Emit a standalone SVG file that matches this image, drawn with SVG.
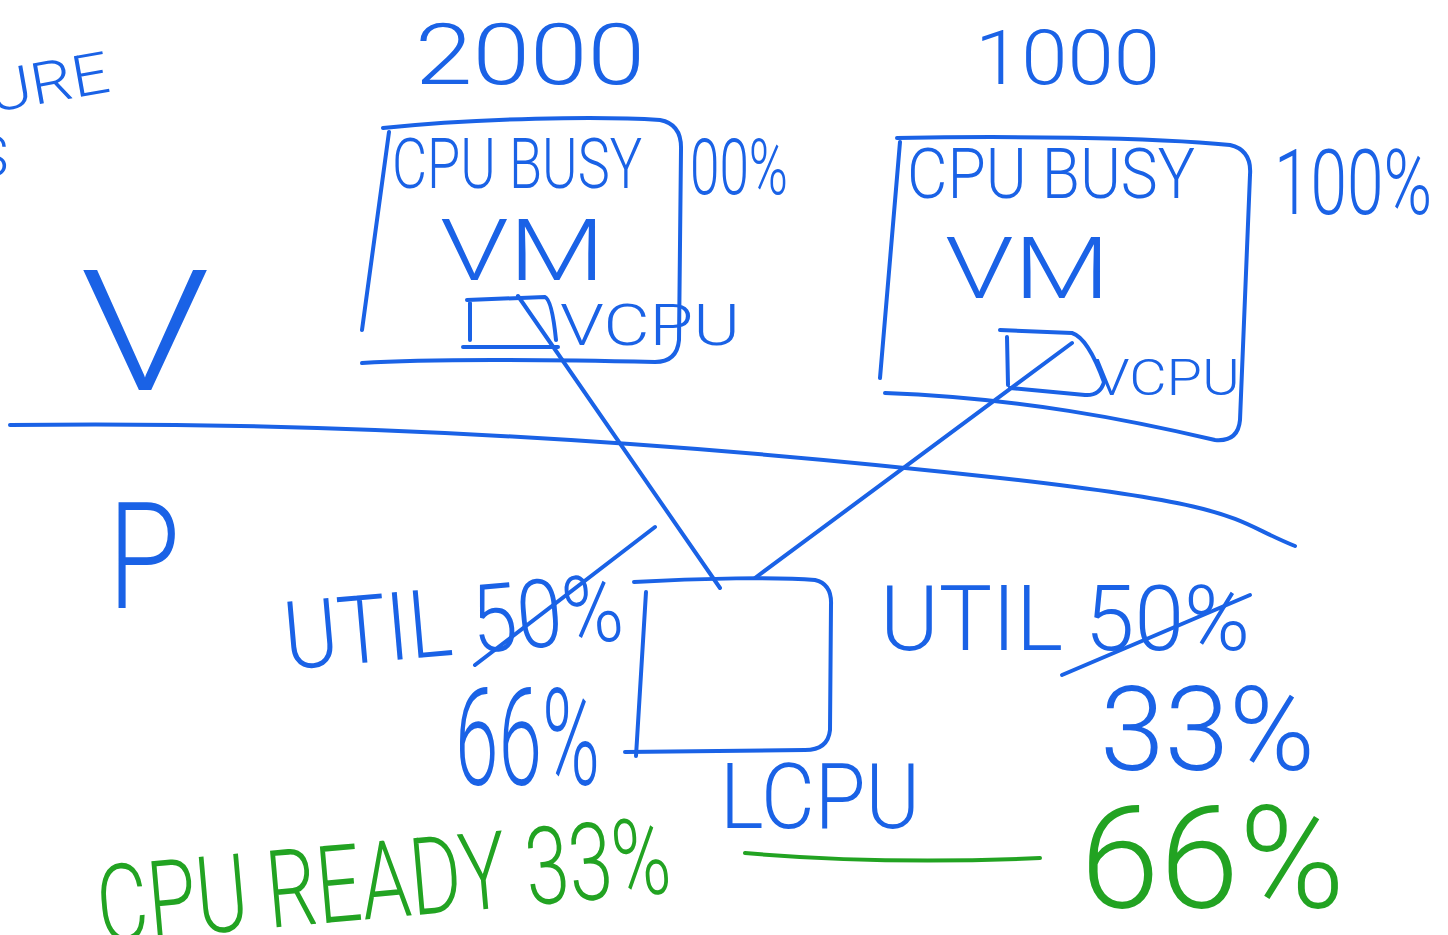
<svg xmlns="http://www.w3.org/2000/svg" width="1448" height="935" viewBox="0 0 1448 935">
<style>
.ln{fill:none;stroke:#1a62e6;stroke-width:4;stroke-linecap:round;stroke-linejoin:round}
.lg{fill:none;stroke:#22a322;stroke-width:4;stroke-linecap:round}
.tb{fill:#1a62e6;font-family:Roboto,"Liberation Sans",sans-serif;font-weight:300}
.tg{fill:#22a322;font-family:Roboto,"Liberation Sans",sans-serif;font-weight:300}
</style>
<rect width="1448" height="935" fill="#ffffff"/>
<g id="title-partial">
<text class="tb" x="-12" y="102" font-size="58" textLength="122" lengthAdjust="spacingAndGlyphs" transform="rotate(-10 50 85)">URE</text>
<text class="tb" x="-26" y="176" font-size="58">S</text>
</g>
<g id="label-2000"><text class="tb" x="415" y="84" font-size="86" textLength="230" lengthAdjust="spacingAndGlyphs">2000</text></g>
<g id="label-1000"><text class="tb" x="975" y="84" font-size="76" textLength="185" lengthAdjust="spacingAndGlyphs">1000</text></g>
<g id="vm1">
<path class="ln" d="M383,128 C480,118 600,116 660,120 Q682,124 681,150 L679,340 Q677,362 655,362 C560,360 440,358 362,363"/>
<path class="ln" d="M389,132 L362,330"/>
<text class="tb" x="392" y="188" font-size="70" textLength="250" lengthAdjust="spacingAndGlyphs">CPU BUSY</text>
<text class="tb" x="440" y="280" font-size="86" textLength="165" lengthAdjust="spacingAndGlyphs">VM</text>
<text class="tb" x="690" y="194" font-size="78" textLength="98" lengthAdjust="spacingAndGlyphs">00%</text>
</g>
<g id="vcpu1">
<path class="ln" d="M470,340 L470,303 M467,300 L545,297 Q552,300 556,340 M463,347 L558,347"/>
<text class="tb" x="560" y="345" font-size="58" textLength="180" lengthAdjust="spacingAndGlyphs">VCPU</text>
</g>
<g id="vm2">
<path class="ln" d="M897,138 C1000,136 1150,137 1230,145 Q1252,150 1250,175 L1240,420 Q1238,442 1215,440 C1130,420 1020,398 885,393"/>
<path class="ln" d="M900,142 L880,378"/>
<text class="tb" x="907" y="198" font-size="70" textLength="288" lengthAdjust="spacingAndGlyphs">CPU BUSY</text>
<text class="tb" x="945" y="298" font-size="86" textLength="165" lengthAdjust="spacingAndGlyphs">VM</text>
<text class="tb" x="1274" y="214" font-size="90" textLength="158" lengthAdjust="spacingAndGlyphs">100%</text>
</g>
<g id="vcpu2">
<path class="ln" d="M1007,337 L1008,385 M1000,330 L1072,333 Q1088,338 1104,382 Q1100,396 1085,395 L1010,388"/>
<text class="tb" x="1094" y="395" font-size="50" textLength="146" lengthAdjust="spacingAndGlyphs">VCPU</text>
</g>
<g id="virtual-label"><text class="tb" x="80" y="390" font-size="168" textLength="130" lengthAdjust="spacingAndGlyphs">V</text></g>
<g id="physical-label"><text class="tb" x="108" y="608" font-size="148" textLength="72" lengthAdjust="spacingAndGlyphs">P</text></g>
<g id="divider"><path class="ln" d="M10,425 C400,420 750,450 1000,478 S1230,520 1295,546"/></g>
<g id="lcpu">
<path class="ln" d="M634,582 C700,578 780,577 815,580 Q832,584 831,605 L830,730 Q828,750 805,750 L625,752"/>
<path class="ln" d="M646,592 L636,756"/>
<text class="tb" x="720" y="828" font-size="90" textLength="200" lengthAdjust="spacingAndGlyphs">LCPU</text>
</g>
<g id="util-left">
<text class="tb" x="283" y="655" font-size="95" textLength="340" lengthAdjust="spacingAndGlyphs" transform="rotate(-5 450 620)">UTIL 50%</text>
<path class="ln" d="M475,665 L655,527"/>
<text class="tb" x="455" y="785" font-size="135" textLength="145" lengthAdjust="spacingAndGlyphs">66%</text>
</g>
<g id="util-right">
<text class="tb" x="880" y="650" font-size="90" textLength="370" lengthAdjust="spacingAndGlyphs">UTIL 50%</text>
<path class="ln" d="M1062,675 L1250,595"/>
<text class="tb" x="1100" y="770" font-size="116" textLength="215" lengthAdjust="spacingAndGlyphs">33%</text>
</g>
<g id="ready">
<text class="tg" x="95" y="918" font-size="108" textLength="575" lengthAdjust="spacingAndGlyphs" transform="rotate(-5 380 870)">CPU READY 33%</text>
<text class="tg" x="1080" y="908" font-size="142" textLength="265" lengthAdjust="spacingAndGlyphs">66%</text>
</g>
<g id="connectors">
<path class="ln" d="M518,296 L720,588"/>
<path class="ln" d="M1072,343 L755,578"/>
<path class="lg" d="M745,853 C850,862 950,862 1040,858"/>
</g>
</svg>
